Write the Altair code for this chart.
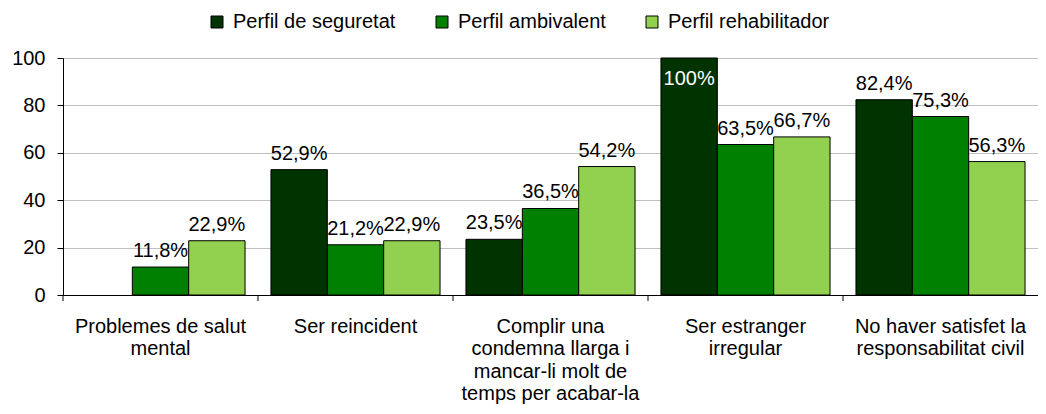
import altair as alt
import pandas as pd

categories = [
    "Problemes de salut\nmental",
    "Ser reincident",
    "Complir una\ncondemna llarga i\nmancar-li molt de\ntemps per acabar-la",
    "Ser estranger\nirregular",
    "No haver satisfet la\nresponsabilitat civil",
]
series = ["Perfil de seguretat", "Perfil ambivalent", "Perfil rehabilitador"]
seguretat = [0, 52.9, 23.5, 100, 82.4]
ambivalent = [11.8, 21.2, 36.5, 63.5, 75.3]
rehabilitador = [22.9, 22.9, 54.2, 66.7, 56.3]
colors = ["#003300", "#008000", "#92D050"]

rows = []
for s, vals in zip(series, [seguretat, ambivalent, rehabilitador]):
    for c, v in zip(categories, vals):
        lab = "100%" if v >= 100 else f"{v:.1f}".replace(".", ",") + "%"
        rows.append({"cat": c, "serie": s, "value": v, "label": lab})
df = pd.DataFrame(rows)

W, H = 975, 237
FONT = "Liberation Sans"

x = alt.X("cat:N", sort=categories, scale=alt.Scale(domain=categories, paddingInner=0, paddingOuter=0),
          axis=alt.Axis(title=None, labelAngle=0, labelFontSize=20, labelLineHeight=22.5,
                        labelExpr="split(datum.label, '\\n')", labelLimit=400,
                        ticks=False, domainColor="black", labelColor="black",
                        labelPadding=21, grid=False, labelFont=FONT))
xo = alt.XOffset("serie:N", scale=alt.Scale(domain=series, paddingOuter=0.23, paddingInner=0))
y = alt.Y("value:Q", scale=alt.Scale(domain=[0, 100], nice=False),
          axis=alt.Axis(title=None, values=[0, 20, 40, 60, 80, 100], labelFontSize=20,
                        labelColor="black", domainColor="black", tickColor="black",
                        tickSize=6, gridColor="#c0c0c0", labelPadding=12, labelFont=FONT))

base = alt.Chart(df)

bars = base.transform_filter("datum.value > 0").mark_bar(stroke="black", strokeWidth=1).encode(
    x=x, xOffset=xo, y=y,
    color=alt.Color("serie:N", scale=alt.Scale(domain=series, range=colors),
                    legend=alt.Legend(title=None, orient="none", direction="horizontal",
                                      legendX=144, legendY=-46, labelFontSize=20,
                                      labelFont=FONT, labelColor="black", labelLimit=400,
                                      symbolType="square", symbolSize=144,
                                      symbolStrokeColor="black", symbolStrokeWidth=1,
                                      columnPadding=36, labelOffset=6)),
)

labels_out = base.transform_filter("datum.value > 0 && datum.value < 100").mark_text(
    baseline="bottom", dy=-6, fontSize=20, font=FONT, color="black"
).encode(x=alt.X("cat:N", scale=alt.Scale(domain=categories)),
         xOffset=alt.XOffset("serie:N", scale=alt.Scale(domain=series)),
         y="value:Q", text="label:N")

labels_in = base.transform_filter("datum.value >= 100").mark_text(
    baseline="top", dy=11, fontSize=20, font=FONT, color="white"
).encode(x=alt.X("cat:N", scale=alt.Scale(domain=categories)),
         xOffset=alt.XOffset("serie:N", scale=alt.Scale(domain=series)),
         y="value:Q", text="label:N")

ticks = alt.Chart(pd.DataFrame({"cat": categories})).mark_rule(color="black").encode(
    x=alt.X("cat:N", scale=alt.Scale(domain=categories), bandPosition=0),
    y=alt.value(H), y2=alt.value(H + 6),
)

chart = alt.layer(bars, labels_out, labels_in, ticks).properties(
    width=W, height=H,
    autosize=alt.AutoSizeParams(type="none"),
    padding={"left": 55, "top": 50, "right": 0, "bottom": 111},
).configure_view(stroke=None).configure(font=FONT)

chart.save("out.html", embed_options={"renderer": "svg", "actions": False})
